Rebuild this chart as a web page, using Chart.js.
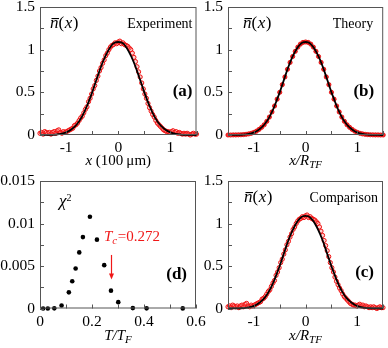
<!DOCTYPE html>
<html><head><meta charset="utf-8">
<script src="https://cdn.jsdelivr.net/npm/chart.js@4"></script>
<style>
html,body{margin:0;padding:0;background:#fff;}
#wrap{position:relative;width:388px;height:348px;overflow:hidden;background:#fff}
canvas{position:absolute;left:0;top:0}
</style></head><body>
<div id="wrap">
<canvas id="ca" width="388" height="348"></canvas>
<canvas id="cb" width="388" height="348"></canvas>
<canvas id="cd" width="388" height="348"></canvas>
<canvas id="cc" width="388" height="348"></canvas>
</div>
<script>
// ---------- data ----------
const expX = [-1.50,-1.47,-1.44,-1.41,-1.38,-1.35,-1.32,-1.29,-1.26,-1.23,-1.20,-1.17,-1.14,-1.11,-1.08,-1.05,-1.02,-0.99,-0.96,-0.93,-0.90,-0.87,-0.84,-0.81,-0.78,-0.75,-0.72,-0.69,-0.66,-0.63,-0.60,-0.57,-0.54,-0.51,-0.48,-0.45,-0.42,-0.39,-0.36,-0.33,-0.30,-0.27,-0.24,-0.21,-0.18,-0.15,-0.12,-0.09,-0.06,-0.03,0.00,0.03,0.06,0.09,0.12,0.15,0.18,0.21,0.24,0.27,0.30,0.33,0.36,0.39,0.42,0.45,0.48,0.51,0.54,0.57,0.60,0.63,0.66,0.69,0.72,0.75,0.78,0.81,0.84,0.87,0.90,0.93,0.96,0.99,1.02,1.05,1.08,1.11,1.14,1.17,1.20,1.23,1.26,1.29,1.32,1.35,1.38,1.41,1.44,1.47,1.50];
const expY = [0.02,0.03,0.01,0.04,0.03,0.02,0.03,0.01,0.03,0.04,
  0.02,0.05,0.06,0.03,0.02,0.04,0.03,0.04,0.05,0.06,
  0.07,0.08,0.11,0.12,0.14,0.17,0.20,0.22,0.26,0.30,
  0.33,0.39,0.43,0.48,0.54,0.58,0.64,0.69,0.75,0.79,
  0.84,0.88,0.93,0.96,1.00,1.03,1.05,1.06,1.08,1.07,
  1.09,1.10,1.07,1.08,1.06,1.05,1.04,1.02,1.00,0.96,
  0.91,0.86,0.80,0.74,0.68,0.61,0.54,0.48,0.43,0.37,
  0.32,0.28,0.24,0.21,0.17,0.14,0.12,0.10,0.08,0.06,
  0.05,0.04,0.04,0.03,0.04,0.05,0.03,0.04,0.02,0.03,
  0.02,0.01,0.02,0.01,0.02,0.01,0.00,0.01,0.02,0.01,0.01];

const fitX = [-1.5,-1.4,-1.3,-1.2,-1.1,-1.0,-0.9,-0.8,-0.7,-0.6,-0.5,-0.4,-0.3,-0.2,-0.1,0,0.1,0.2,0.3,0.4,0.5,0.6,0.7,0.8,0.9,1.0,1.1,1.2,1.3,1.4,1.5];
const fitY = [0,0.001,0.002,0.005,0.012,0.03,0.065,0.12,0.21,0.34,0.50,0.68,0.85,0.98,1.07,1.09,1.07,0.98,0.85,0.68,0.50,0.34,0.21,0.12,0.065,0.03,0.012,0.005,0.002,0.001,0];

const theoryX = [-1.5,-1.45,-1.4,-1.35,-1.3,-1.25,-1.2,-1.15,-1.1,-1.05,-1.0,-0.95,-0.9,-0.85,-0.8,-0.75,-0.7,-0.65,-0.6,-0.55,-0.5,-0.45,-0.4,-0.35,-0.3,-0.25,-0.2,-0.15,-0.1,-0.05,0,
  0.05,0.1,0.15,0.2,0.25,0.3,0.35,0.4,0.45,0.5,0.55,0.6,0.65,0.7,0.75,0.8,0.85,0.9,0.95,1.0,1.05,1.1,1.15,1.2,1.25,1.3,1.35,1.4,1.45,1.5];
const theoryY = [0,0,0.001,0.001,0.002,0.003,0.005,0.008,0.013,0.02,0.03,0.045,0.065,0.09,0.12,0.16,0.21,0.27,0.34,0.42,0.50,0.59,0.68,0.77,0.85,0.92,0.98,1.03,1.065,1.085,1.09,
  1.085,1.065,1.03,0.98,0.92,0.85,0.77,0.68,0.59,0.50,0.42,0.34,0.27,0.21,0.16,0.12,0.09,0.065,0.045,0.03,0.02,0.013,0.008,0.005,0.003,0.002,0.001,0.001,0,0];

const chiX = [0.012,0.030,0.055,0.083,0.111,0.124,0.137,0.151,0.165,0.192,0.219,0.247,0.273,0.301,0.357,0.410,0.549];
const chiY = [0,0,0.00002,0.00035,0.0019,0.0032,0.0047,0.0066,0.0084,0.0108,0.0081,0.0051,0.0021,0.00075,0.00005,0.00002,0.00001];

const profileXLabels = [-1, 0, 1];
const profileYLabels = [0, 0.5, 1, 1.5];
const chiXLabels = [0, 0.2, 0.4, 0.6];
const chiYLabels = [0, 0.005, 0.01, 0.015];
const Tc = 0.272;

// ---------- helpers ----------
const SERIF = '"Liberation Serif", "Times New Roman", serif';
Chart.defaults.font.family = SERIF;
Chart.defaults.color = '#000';

const pts = (xs, ys) => xs.map((x, i) => ({x, y: ys[i]}));
const labelCb = list => v => {
  const hit = list.find(l => Math.abs(l - v) < 1e-9);
  return hit === undefined ? '' : String(hit);
};

function drawRich(ctx, x, y, segs, align) {
  let w = 0;
  segs.forEach(s => { ctx.font = s.font; s.w = ctx.measureText(s.t).width; w += s.w + (s.gap || 0); });
  let cx = align === 'right' ? x - w : align === 'center' ? x - w / 2 : x;
  ctx.textAlign = 'left'; ctx.textBaseline = 'alphabetic';
  segs.forEach(s => {
    ctx.font = s.font; ctx.fillStyle = s.color || '#000';
    ctx.fillText(s.t, cx, y + (s.dy || 0));
    if (s.over) { ctx.fillRect(cx + 1.5, y - s.over, s.w - 1, 1.1); }
    cx += s.w + (s.gap || 0);
  });
}
const it = (sz) => 'italic ' + sz + 'px ' + SERIF;
const rm = (sz) => sz + 'px ' + SERIF;
const bd = (sz) => 'bold ' + sz + 'px ' + SERIF;

const framePlugin = {
  id: 'frame',
  afterDatasetsDraw(chart) {
    const {ctx, chartArea: a, scales: {x, y}} = chart;
    ctx.save();
    ctx.strokeStyle = '#555'; ctx.lineWidth = 1;
    ctx.strokeRect(a.left + 0.5, a.top + 0.5, a.right - a.left - 1, a.bottom - a.top - 1);
    ctx.beginPath();
    x.ticks.forEach(t => { const px = Math.round(x.getPixelForValue(t.value)) + 0.5; ctx.moveTo(px, a.bottom); ctx.lineTo(px, a.bottom - 4); });
    y.ticks.forEach(t => { const py = Math.round(y.getPixelForValue(t.value)) + 0.5; ctx.moveTo(a.left, py); ctx.lineTo(a.left + 4, py); });
    ctx.stroke();
    ctx.restore();
  }
};

function deco(fn) { return {id: 'deco', afterDraw(chart) { const c = chart.ctx; c.save(); fn(chart, c); c.restore(); }}; }

const nbar = (ctx, x, y) => drawRich(ctx, x, y, [
  {t: 'n', font: it(17), over: 10}, {t: '(', font: rm(17), gap: 0.5}, {t: 'x', font: it(17), gap: 0.5}, {t: ')', font: rm(17)}]);

function axisX(min, max, step, labels) {
  return {type: 'linear', min, max,
    ticks: {stepSize: step, autoSkip: false, maxRotation: 0, padding: 4, color: '#000', font: {size: 15.5, family: SERIF}, callback: labelCb(labels)},
    grid: {display: false, drawTicks: false}, border: {display: false},
    afterFit(s) { s.height = 30; s.paddingLeft = 0; s.paddingRight = 0; }};
}
function axisY(min, max, step, labels) {
  return {type: 'linear', min, max,
    ticks: {stepSize: step, autoSkip: false, padding: 5, color: '#000', font: {size: 15.5, family: SERIF}, callback: labelCb(labels)},
    grid: {display: false, drawTicks: false}, border: {display: false},
    afterFit(s) { s.width = 40; s.paddingTop = 0; s.paddingBottom = 0; }};
}

function baseOpts(padding, scales) {
  return {responsive: false, animation: false, devicePixelRatio: 1, events: [],
    layout: {padding},
    plugins: {legend: {display: false}, tooltip: {enabled: false}},
    scales};
}

const blackLine = (xs, ys) => ({type: 'line', data: pts(xs, ys), borderColor: '#000', borderWidth: 1.8,
  pointRadius: 0, cubicInterpolationMode: 'monotone', fill: false, clip: false});
const redRings = (xs, ys) => ({type: 'scatter', data: pts(xs, ys), showLine: false, pointRadius: 2.1,
  pointBorderWidth: 1, pointBorderColor: '#f01010', pointBackgroundColor: 'rgba(255,120,120,0.35)', clip: false});
const redDots = (xs, ys) => ({type: 'scatter', data: pts(xs, ys), showLine: false, pointRadius: 2.1,
  pointBorderWidth: 0.8, pointBorderColor: '#e00000', pointBackgroundColor: '#ff3030', clip: false});

// ---------- panel (a) Experiment ----------
new Chart(document.getElementById('ca'), {
  data: {datasets: [blackLine(fitX, fitY), redRings(expX, expY)]},
  options: baseOpts({left: 0, top: 7, right: 191.5, bottom: 183},
    {x: axisX(-1.5, 1.5, 0.5, profileXLabels), y: axisY(0, 1.5, 0.25, profileYLabels)}),
  plugins: [framePlugin, deco((ch, ctx) => {
    const a = ch.chartArea;
    nbar(ctx, a.left + 10, a.top + 21);
    drawRich(ctx, a.right - 4, a.top + 21, [{t: 'Experiment', font: rm(14)}], 'right');
    drawRich(ctx, a.right - 4, a.top + 89, [{t: '(a)', font: bd(17)}], 'right');
    drawRich(ctx, (a.left + a.right) / 2, a.bottom + 30, [{t: 'x', font: it(15)}, {t: ' (100\u2009\u03bcm)', font: rm(15)}], 'center');
  })]
});

// ---------- panel (b) Theory ----------
new Chart(document.getElementById('cb'), {
  data: {datasets: [blackLine(theoryX, theoryY), redDots(theoryX, theoryY)]},
  options: baseOpts({left: 188, top: 7, right: 1.5, bottom: 183},
    {x: axisX(-1.5, 1.5, 0.5, profileXLabels), y: axisY(0, 1.5, 0.25, profileYLabels)}),
  plugins: [framePlugin, deco((ch, ctx) => {
    const a = ch.chartArea;
    nbar(ctx, a.left + 15, a.top + 21);
    drawRich(ctx, a.right - 10, a.top + 21, [{t: 'Theory', font: rm(14)}], 'right');
    drawRich(ctx, a.right - 9, a.top + 89, [{t: '(b)', font: bd(17)}], 'right');
    drawRich(ctx, (a.left + a.right) / 2, a.bottom + 30, [{t: 'x/R', font: it(15)}, {t: 'TF', font: it(11), dy: 3}], 'center');
  })]
});

// ---------- panel (d) chi^2 ----------
new Chart(document.getElementById('cd'), {
  data: {datasets: [{type: 'scatter', data: pts(chiX, chiY), showLine: false, pointRadius: 2.3,
    pointBorderWidth: 0, pointBackgroundColor: '#000', clip: false}]},
  options: baseOpts({left: 0, top: 181, right: 192, bottom: 9.5},
    {x: axisX(0, 0.6, 0.1, chiXLabels), y: axisY(0, 0.015, 0.0025, chiYLabels)}),
  plugins: [framePlugin, deco((ch, ctx) => {
    const a = ch.chartArea, x = ch.scales.x, y = ch.scales.y;
    drawRich(ctx, a.left + 19, a.top + 25, [{t: '\u03c7', font: it(17)}, {t: '2', font: rm(10), dy: -5}]);
    drawRich(ctx, a.right - 9, a.top + 98, [{t: '(d)', font: bd(17)}], 'right');
    drawRich(ctx, (a.left + a.right) / 2, a.bottom + 31, [{t: 'T/T', font: it(15)}, {t: 'F', font: it(11), dy: 3}], 'center');
    const red = '#f01818';
    drawRich(ctx, x.getPixelForValue(0.246), y.getPixelForValue(0.0079), [
      {t: 'T', font: it(15), color: red}, {t: 'c', font: it(11), dy: 3, color: red, gap: 0.5}, {t: '=0.272', font: rm(15), color: red}]);
    const px = Math.round(x.getPixelForValue(Tc)) + 0.5;
    const y0 = y.getPixelForValue(0.0063), y1 = y.getPixelForValue(0.0034);
    ctx.strokeStyle = red; ctx.fillStyle = red; ctx.lineWidth = 1.2;
    ctx.beginPath(); ctx.moveTo(px, y0); ctx.lineTo(px, y1 - 4); ctx.stroke();
    ctx.beginPath(); ctx.moveTo(px - 2.5, y1 - 6); ctx.lineTo(px + 2.5, y1 - 6); ctx.lineTo(px, y1); ctx.closePath(); ctx.fill();
  })]
});

// ---------- panel (c) Comparison ----------
new Chart(document.getElementById('cc'), {
  data: {datasets: [blackLine(theoryX, theoryY), redRings(expX, expY)]},
  options: baseOpts({left: 188, top: 181, right: 1.5, bottom: 9.5},
    {x: axisX(-1.5, 1.5, 0.5, profileXLabels), y: axisY(0, 1.5, 0.25, profileYLabels)}),
  plugins: [framePlugin, deco((ch, ctx) => {
    const a = ch.chartArea;
    nbar(ctx, a.left + 16, a.top + 21);
    drawRich(ctx, a.right - 5, a.top + 21, [{t: 'Comparison', font: rm(14)}], 'right');
    drawRich(ctx, a.right - 9, a.top + 96, [{t: '(c)', font: bd(17)}], 'right');
    drawRich(ctx, (a.left + a.right) / 2, a.bottom + 31, [{t: 'x/R', font: it(15)}, {t: 'TF', font: it(11), dy: 3}], 'center');
  })]
});
</script>
</body></html>
